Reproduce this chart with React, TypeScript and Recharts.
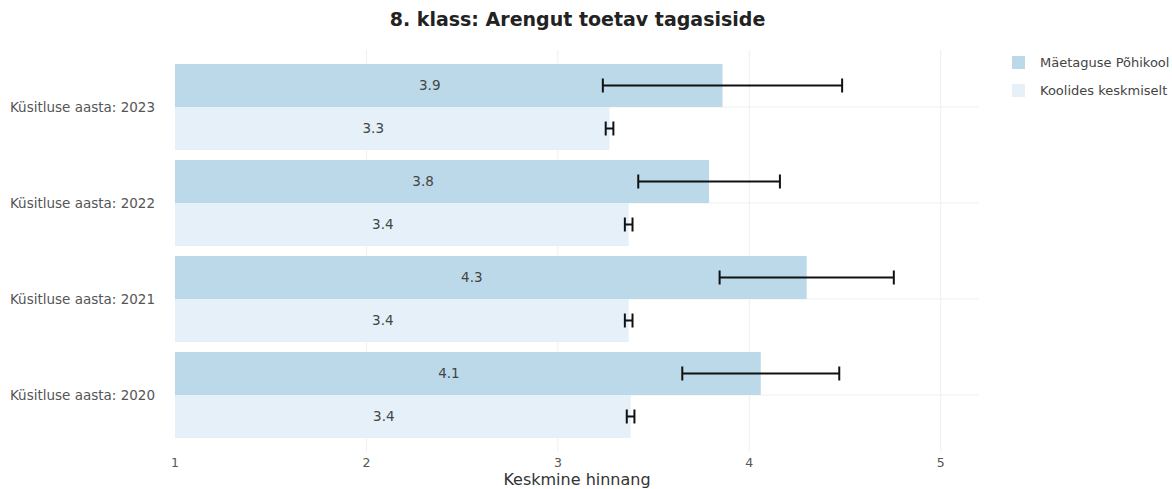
import React from "react";
import {
  BarChart,
  Bar,
  XAxis,
  YAxis,
  CartesianGrid,
  ErrorBar,
  LabelList,
} from "recharts";

const years = ["Küsitluse aasta: 2023", "Küsitluse aasta: 2022", "Küsitluse aasta: 2021", "Küsitluse aasta: 2020"];
const schoolMean = [3.86, 3.79, 4.3, 4.06];
const schoolErr = [0.625, 0.37, 0.455, 0.41];
const avgMean = [3.27, 3.37, 3.37, 3.38];
const avgErr = [0.02, 0.02, 0.02, 0.02];
const xTicks = [1, 2, 3, 4, 5];

const SCHOOL = "Mäetaguse Põhikool";
const AVG = "Koolides keskmiselt";
const COLORS = ["#bcd9ea", "#e5f0f9"];
const X_DOMAIN = [1, 5.2];
const Y_PAD = 9;

const data = years.map((y, i) => ({
  year: y,
  school: schoolMean[i],
  schoolErr: schoolErr[i],
  avg: avgMean[i],
  avgErr: avgErr[i],
}));

const FONT = "'DejaVu Sans', Verdana, sans-serif";

const InsideLabel = (props: any) => {
  const { x, y, width, height, value } = props;
  return (
    <text
      x={x + width / 2 - 19}
      y={y + height / 2}
      textAnchor="middle"
      dominantBaseline="central"
      fontSize={13.5}
      fill="#444"
      fontFamily={FONT}
    >
      {Number(value).toFixed(1)}
    </text>
  );
};

// grid lines only at the x ticks (past 1) and at the category centres
const vGrid = ({ offset }: any) =>
  xTicks
    .slice(1)
    .map((t) => offset.left + ((t - X_DOMAIN[0]) / (X_DOMAIN[1] - X_DOMAIN[0])) * offset.width);
const hGrid = ({ offset }: any) => {
  const step = (offset.height - 2 * Y_PAD) / years.length;
  return years.map((_, i) => offset.top + Y_PAD + step * (i + 0.5));
};

export default function App() {
  return (
    <div style={{ position: "absolute", left: 0, top: 0, width: 1172, height: 489, background: "#fff", overflow: "hidden" }}>
      <div
        style={{
          position: "absolute",
          left: 0,
          width: 1155,
          top: 8,
          textAlign: "center",
          fontFamily: FONT,
          fontWeight: "bold",
          fontSize: 19,
          color: "#222",
        }}
      >
        8. klass: Arengut toetav tagasiside
      </div>
      <div style={{ position: "absolute", left: 1012, top: 48, fontFamily: FONT, fontSize: 13, color: "#444", whiteSpace: "nowrap" }}>
        {[SCHOOL, AVG].map((name, i) => (
          <div key={name} style={{ display: "flex", alignItems: "center", height: 28 }}>
            <span style={{ width: 13, height: 13, background: COLORS[i], marginRight: 15 }} />
            {name}
          </div>
        ))}
      </div>
      <BarChart
        width={1172}
        height={489}
        data={data}
        layout="vertical"
        margin={{ top: 50, right: 193, left: 0, bottom: 0 }}
        barCategoryGap="5.2%"
        barGap={0}
      >
        <CartesianGrid
          stroke="#efefef"
          verticalCoordinatesGenerator={vGrid}
          horizontalCoordinatesGenerator={hGrid}
        />
        <XAxis
          type="number"
          domain={X_DOMAIN}
          ticks={xTicks}
          axisLine={false}
          tickLine={false}
          height={37}
          tick={{ fontSize: 12.5, fill: "#555", fontFamily: FONT }}
          tickMargin={0}
          label={{
            value: "Keskmine hinnang",
            position: "insideBottom",
            offset: 4,
            fontSize: 16,
            fill: "#333",
            fontFamily: FONT,
          }}
        />
        <YAxis
          type="category"
          dataKey="year"
          width={175}
          padding={{ top: Y_PAD, bottom: Y_PAD }}
          axisLine={false}
          tickLine={false}
          tickMargin={14}
          tick={{ fontSize: 13.5, fill: "#555", fontFamily: FONT }}
        />
        <Bar dataKey="school" name={SCHOOL} fill={COLORS[0]} isAnimationActive={false}>
          <LabelList dataKey="school" content={InsideLabel} />
          <ErrorBar dataKey="schoolErr" width={7} stroke="#111" strokeWidth={2} direction="x" />
        </Bar>
        <Bar dataKey="avg" name={AVG} fill={COLORS[1]} isAnimationActive={false}>
          <LabelList dataKey="avg" content={InsideLabel} />
          <ErrorBar dataKey="avgErr" width={7} stroke="#111" strokeWidth={2} direction="x" />
        </Bar>
      </BarChart>
    </div>
  );
}
